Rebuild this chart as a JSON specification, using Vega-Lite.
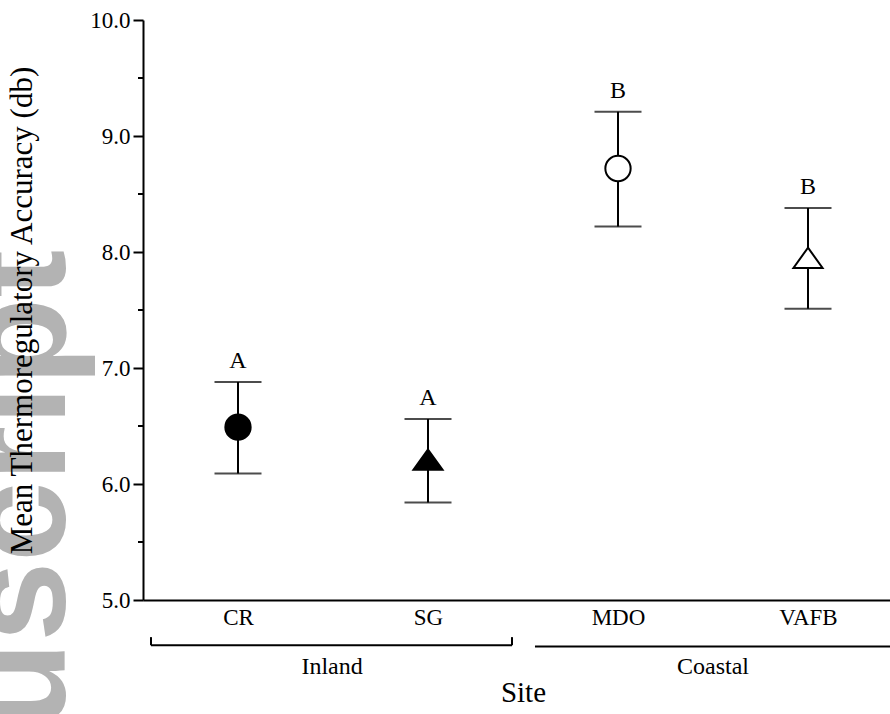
{
  "$schema": "https://vega.github.io/schema/vega-lite/v6.json",
  "width": 760,
  "height": 580,
  "autosize": {"type": "none"},
  "padding": {"left": 143, "top": 20, "right": 0, "bottom": 114},
  "background": "white",
  "config": {"view": {"stroke": null}, "font": "Liberation Serif"},
  "datasets": {
    "sites": [
      {"site": "CR", "pos": 1, "region": "Inland", "mean": 6.49, "lo": 6.09, "hi": 6.88, "letter": "A"},
      {"site": "SG", "pos": 2, "region": "Inland", "mean": 6.21, "lo": 5.84, "hi": 6.56, "letter": "A"},
      {"site": "MDO", "pos": 3, "region": "Coastal", "mean": 8.72, "lo": 8.22, "hi": 9.21, "letter": "B"},
      {"site": "VAFB", "pos": 4, "region": "Coastal", "mean": 7.95, "lo": 7.51, "hi": 8.38, "letter": "B"}
    ],
    "minor": [{"v": 5.5}, {"v": 6.5}, {"v": 7.5}, {"v": 8.5}, {"v": 9.5}],
    "groups": [
      {"group": "Inland", "start": 0.542, "end": 2.442, "level": 4.61, "mid": 1.495, "labely": 4.42},
      {"group": "Coastal", "start": 2.563, "end": 4.62, "level": 4.6, "mid": 3.5, "labely": 4.42}
    ],
    "ends": [
      {"at": 0.542, "from": 4.61, "to": 4.68},
      {"at": 2.442, "from": 4.61, "to": 4.68}
    ],
    "watermark": [{"text": "Author Manuscript", "x": 0.0895, "y": 8.02}]
  },
  "layer": [
    {
      "data": {"name": "watermark"},
      "mark": {"type": "text", "angle": 270, "align": "right", "baseline": "alphabetic", "font": "Liberation Sans", "fontWeight": "bold", "fontSize": 144, "color": "#b3b3b3"},
      "encoding": {
        "x": {"field": "x", "type": "quantitative", "scale": {"domain": [0.5, 4.5], "nice": false, "zero": false},
          "axis": {"values": [1, 2, 3, 4], "labelExpr": "['','CR','SG','MDO','VAFB'][datum.value]", "ticks": false, "grid": false, "domainColor": "black", "domainWidth": 2, "labelFont": "Liberation Serif", "labelFontSize": 23, "labelColor": "black", "labelPadding": 6, "title": "Site", "titleFont": "Liberation Serif", "titleFontSize": 29, "titleFontWeight": "normal", "titleColor": "black", "titlePadding": 49, "zindex": 1}},
        "y": {"field": "y", "type": "quantitative", "scale": {"domain": [5, 10], "nice": false, "zero": false},
          "axis": {"values": [5, 6, 7, 8, 9, 10], "format": ".1f", "grid": false, "domainColor": "black", "domainWidth": 2, "tickColor": "black", "tickWidth": 2, "tickSize": 10, "labelFont": "Liberation Serif", "labelFontSize": 23, "labelColor": "black", "labelPadding": 3, "title": "Mean Thermoregulatory Accuracy (db)", "titleFont": "Liberation Serif", "titleFontSize": 31, "titleFontWeight": "normal", "titleColor": "black", "titlePadding": 51, "zindex": 1}},
        "text": {"field": "text"}
      }
    },
    {
      "data": {"name": "minor"},
      "mark": {"type": "rule", "color": "black", "strokeWidth": 2},
      "encoding": {
        "x": {"datum": 0.4737, "type": "quantitative"},
        "x2": {"datum": 0.5},
        "y": {"field": "v", "type": "quantitative"}
      }
    },
    {
      "data": {"name": "sites"},
      "mark": {"type": "rule", "color": "black", "strokeWidth": 2},
      "encoding": {
        "x": {"field": "pos", "type": "quantitative"},
        "y": {"field": "lo", "type": "quantitative"},
        "y2": {"field": "hi"}
      }
    },
    {
      "data": {"name": "sites"},
      "mark": {"type": "tick", "orient": "horizontal", "color": "black", "size": 47, "thickness": 2},
      "encoding": {
        "x": {"field": "pos", "type": "quantitative"},
        "y": {"field": "lo", "type": "quantitative"}
      }
    },
    {
      "data": {"name": "sites"},
      "mark": {"type": "tick", "orient": "horizontal", "color": "black", "size": 47, "thickness": 2},
      "encoding": {
        "x": {"field": "pos", "type": "quantitative"},
        "y": {"field": "hi", "type": "quantitative"}
      }
    },
    {
      "data": {"name": "sites"},
      "mark": {"type": "point", "stroke": "black", "strokeWidth": 2, "opacity": 1, "fillOpacity": 1, "size": 640},
      "encoding": {
        "x": {"field": "pos", "type": "quantitative"},
        "y": {"field": "mean", "type": "quantitative"},
        "shape": {"field": "site", "type": "nominal", "legend": null, "scale": {"domain": ["CR", "SG", "MDO", "VAFB"], "range": ["circle", "M0,-0.8L1.15,0.8L-1.15,0.8Z", "circle", "M0,-0.8L1.15,0.8L-1.15,0.8Z"]}},
        "fill": {"field": "region", "type": "nominal", "legend": null, "scale": {"domain": ["Inland", "Coastal"], "range": ["black", "white"]}}
      }
    },
    {
      "data": {"name": "sites"},
      "mark": {"type": "text", "font": "Liberation Serif", "fontSize": 24, "color": "black", "baseline": "middle", "dy": -21},
      "encoding": {
        "x": {"field": "pos", "type": "quantitative"},
        "y": {"field": "hi", "type": "quantitative"},
        "text": {"field": "letter"}
      }
    },
    {
      "data": {"name": "groups"},
      "mark": {"type": "rule", "color": "black", "strokeWidth": 2},
      "encoding": {
        "x": {"field": "start", "type": "quantitative"},
        "x2": {"field": "end"},
        "y": {"field": "level", "type": "quantitative"}
      }
    },
    {
      "data": {"name": "ends"},
      "mark": {"type": "rule", "color": "black", "strokeWidth": 2},
      "encoding": {
        "x": {"field": "at", "type": "quantitative"},
        "y": {"field": "from", "type": "quantitative"},
        "y2": {"field": "to"}
      }
    },
    {
      "data": {"name": "groups"},
      "mark": {"type": "text", "font": "Liberation Serif", "fontSize": 24, "color": "black", "baseline": "middle"},
      "encoding": {
        "x": {"field": "mid", "type": "quantitative"},
        "y": {"field": "labely", "type": "quantitative"},
        "text": {"field": "group"}
      }
    }
  ]
}
